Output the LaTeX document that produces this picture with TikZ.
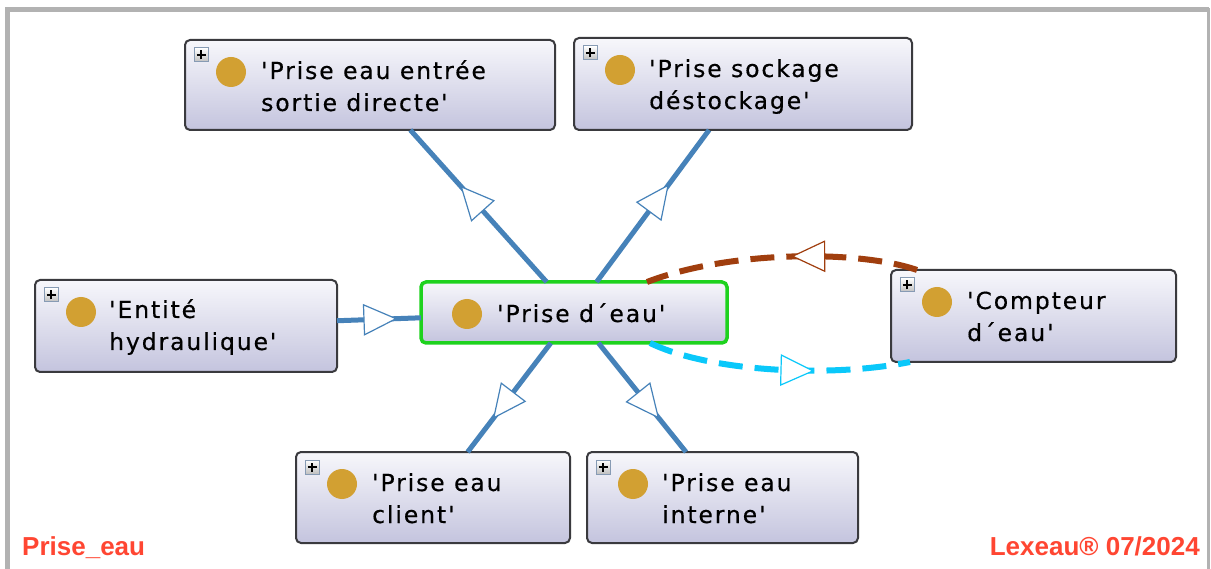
\documentclass[tikz,border=0pt]{standalone}
\usepackage{fontspec}
\setmainfont{DejaVu Sans}
\newfontfamily\boxfont[LetterSpace=8,Ligatures=TeXOff,FakeBold=0.4]{DejaVu Sans}
\newfontfamily\footfont{Liberation Sans}
\usetikzlibrary{calc,decorations.markings}
\definecolor{boxtop}{RGB}{247,247,251}
\definecolor{boxbot}{RGB}{196,196,222}
\definecolor{boxborder}{RGB}{58,58,62}
\definecolor{selgreen}{RGB}{30,210,30}
\definecolor{gold}{RGB}{210,160,50}
\definecolor{edgeblue}{RGB}{70,130,185}
\definecolor{brownish}{RGB}{160,62,14}
\definecolor{cyanish}{RGB}{10,200,250}
\definecolor{framegray}{RGB}{178,178,178}
\definecolor{footred}{RGB}{255,70,50}
\definecolor{iconborder}{RGB}{135,155,180}
\begin{document}
\begin{tikzpicture}[x=1pt,y=-1pt,
  cls/.style={rectangle, rounded corners=5pt, draw=boxborder, line width=2pt,
    top color=boxtop, bottom color=boxbot, inner sep=0pt, outer sep=0pt},
  selcls/.style={cls, draw=selgreen, line width=3.5pt},
  dot/.style={circle, fill=gold, minimum size=30pt, inner sep=0pt},
  plusicon/.style={rectangle, draw=iconborder, line width=1pt, top color=white, bottom color=black!25,
    minimum size=14pt, inner sep=0pt,
    path picture={\draw[black, line width=1.5pt]
      ([xshift=-4.5pt]path picture bounding box.center) -- ([xshift=4.5pt]path picture bounding box.center)
      ([yshift=-4.5pt]path picture bounding box.center) -- ([yshift=4.5pt]path picture bounding box.center);}},
  lbl/.style={font=\boxfont\fontsize{23.5}{32}\selectfont, inner sep=0pt, anchor=base west, text=black},
  edge/.style={draw=edgeblue, line width=5pt},
  tri/.style={draw=edgeblue, fill=white, line width=1.2pt, solid, line join=miter},
  midtri/.style={decorate, decoration={markings, mark=at position 0.5 with
    {\draw[tri] (16,0) -- (-16,15) -- (-16,-15) -- cycle;}}},
  brownline/.style={draw=brownish, line width=6pt, dash pattern=on 24pt off 12pt},
  cyanline/.style={draw=cyanish, line width=6pt, dash pattern=on 24pt off 12pt},
  foot/.style={font=\footfont\bfseries\fontsize{26}{30}\selectfont, text=footred, inner sep=0pt}
]
\useasboundingbox (0,0) rectangle (1211,569);
\fill[white] (0,0) rectangle (1211,569);
% frame
\draw[framegray, line width=5pt] (7.5,569) -- (7.5,9.5) -- (1208.5,9.5);
\draw[framegray, line width=3pt] (1208.5,8) -- (1208.5,569);

% boxes
\node[cls, minimum width=370pt, minimum height=90pt] (b1) at (370,85) {};
\node[cls, minimum width=338pt, minimum height=92pt] (b2) at (743,84) {};
\node[cls, minimum width=302pt, minimum height=92pt] (ent) at (186,326) {};
\node[selcls, minimum width=306pt, minimum height=61pt] (prise) at (574,312.5) {};
\node[cls, minimum width=285pt, minimum height=92pt] (comp) at (1033.5,316) {};
\node[cls, minimum width=274pt, minimum height=91pt] (client) at (433,497.5) {};
\node[cls, minimum width=271pt, minimum height=91pt] (interne) at (722.5,497.5) {};

% icons, dots, labels
\foreach \b in {b1,b2,ent,comp,client,interne}{
  \node[plusicon] (\b p) at ($(\b.north west)+(16,15)$) {};
}
\foreach \b in {b1,b2,ent,prise,comp,client,interne}{
  \node[dot] (\b d) at ($(\b.north west)+(46,32)$) {};
}
\node[lbl] (b1t) at ($(b1.north west)+(76,39)$) {\begin{tabular}[t]{@{}l@{}}'Prise eau entrée\\sortie directe'\end{tabular}};
\node[lbl] (b2t) at ($(b2.north west)+(75,39)$) {\begin{tabular}[t]{@{}l@{}}'Prise sockage\\déstockage'\end{tabular}};
\node[lbl] (entt) at ($(ent.north west)+(74,38)$) {\begin{tabular}[t]{@{}l@{}}'Entité\\hydraulique'\end{tabular}};
\node[lbl] (priset) at ($(prise.north west)+(76,40)$) {'Prise d´eau'};
\node[lbl] (compt) at ($(comp.north west)+(76,39)$) {\begin{tabular}[t]{@{}l@{}}'Compteur\\d´eau'\end{tabular}};
\node[lbl] (clientt) at ($(client.north west)+(76,39)$) {\begin{tabular}[t]{@{}l@{}}'Prise eau\\client'\end{tabular}};
\node[lbl] (internet) at ($(interne.north west)+(75,39)$) {\begin{tabular}[t]{@{}l@{}}'Prise eau\\interne'\end{tabular}};

% blue generalisation connectors
\draw[edge] (prise) -- (b1);
\draw[edge] (prise) -- (b2);
\draw[edge] (ent) -- (prise);
\draw[edge] (prise) -- (client);
\draw[edge] (prise) -- (interne);
\path[midtri] (prise.center) -- (b1.center);
\path[midtri] (prise.center) -- (b2.center);
\path[midtri] (ent.center) -- (prise.center);
\path[midtri] (prise.center) -- (client.center);
\path[midtri] (prise.center) -- (interne.center);

% dashed connectors
\draw[brownline, postaction={decorate, decoration={markings, mark=at position 0.4 with
    {\draw[tri, draw=brownish] (16,0) -- (-16,15) -- (-16,-15) -- cycle;}}}]
  ([xshift=26pt]comp.north west) .. controls (860,250) and (730,250) .. ([xshift=-80pt]prise.north east);
\draw[cyanline, postaction={decorate, decoration={markings, mark=at position 0.57 with
    {\draw[tri, draw=cyanish] (16,0) -- (-16,15) -- (-16,-15) -- cycle;}}}]
  ([xshift=-77pt]prise.south east) .. controls (710,372) and (830,378) .. ([xshift=19pt]comp.south west);

% footer
\node[foot, anchor=base west] (fl) at (22,555) {Prise\_eau};
\node[foot, anchor=base east] (fr) at (1200,555) {Lexeau® 07/2024};
\end{tikzpicture}
\end{document}
